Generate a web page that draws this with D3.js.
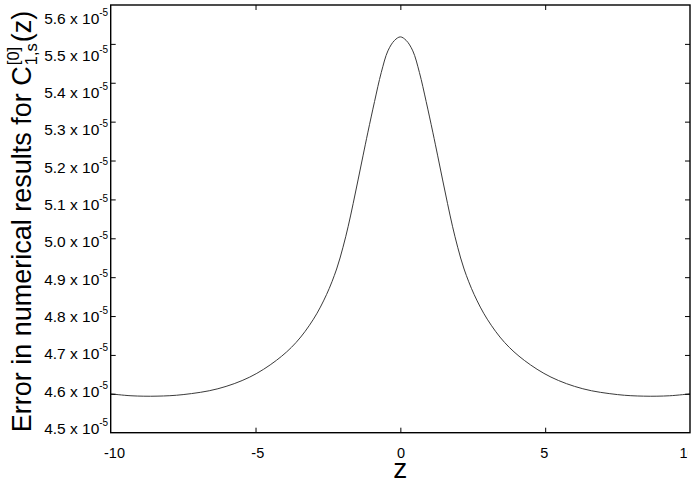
<!DOCTYPE html>
<html>
<head>
<meta charset="utf-8">
<script src="https://cdn.jsdelivr.net/npm/d3@7"></script>
<style>
  html, body { margin: 0; padding: 0; background: #fff; }
  svg { display: block; font-family: "Liberation Sans", Arial, Helvetica, sans-serif; }
</style>
</head>
<body>
<svg id="chart" width="698" height="484"></svg>
<script>
// Data (error values in units of 1e-5)
const zValues = [-10, -9.3, -8.4, -7.5, -6.3, -5.2, -4.28, -3.6, -3.0, -2.55, -2.2, -1.98, -1.8, -1.63, -1.46, -1.29, -1.12, -0.89, -0.66, -0.43, -0.2, 0,
                 0.2, 0.43, 0.66, 0.89, 1.12, 1.29, 1.46, 1.63, 1.8, 1.98, 2.2, 2.55, 3.0, 3.6, 4.28, 5.2, 6.3, 7.5, 8.4, 9.3, 10];
const errorValues = [4.600, 4.595, 4.594, 4.598, 4.613, 4.643, 4.686, 4.732, 4.792, 4.855, 4.921, 4.977, 5.031, 5.089, 5.150, 5.212, 5.273, 5.352, 5.426, 5.482, 5.509, 5.518,
                     5.509, 5.482, 5.426, 5.352, 5.273, 5.212, 5.150, 5.089, 5.031, 4.977, 4.921, 4.855, 4.792, 4.732, 4.686, 4.643, 4.613, 4.598, 4.594, 4.595, 4.600];
const xTicks = [-10, -5, 0, 5, 10];
const yTicks = [4.5, 4.6, 4.7, 4.8, 4.9, 5.0, 5.1, 5.2, 5.3, 5.4, 5.5, 5.6];
const yExponent = "-5";

const svg = d3.select("#chart");
const W = 698, H = 484;
const plot = { left: 110.7, right: 690, top: 5, bottom: 432.7 };
const x = d3.scaleLinear().domain([-10, 10]).range([plot.left, plot.right]);
const y = d3.scaleLinear().domain([4.5, 5.6]).range([plot.bottom, plot.top]);
// label placement scales (labels in the original sit on a slightly compressed grid)
const xLab = d3.scaleLinear().domain([-10, 10]).range([114, 687]);
const yLab = d3.scaleLinear().domain([4.5, 5.6]).range([433.5, 23]);

// the original figure is cropped at the right edge, cutting the last x label
svg.append("defs").append("clipPath").attr("id", "labclip")
  .append("rect").attr("x", 0).attr("y", -500).attr("width", 687.5).attr("height", 1000);

// Curve
const pts = zValues.map((z, i) => [z, errorValues[i]]);
svg.append("path")
  .datum(pts)
  .attr("fill", "none")
  .attr("stroke", "#3a3a3a")
  .attr("stroke-width", 1)
  .attr("d", d3.line().x(d => x(d[0])).y(d => y(d[1])).curve(d3.curveCatmullRom.alpha(0.5)));

// Frame
svg.append("rect")
  .attr("x", x(-10)).attr("y", y(5.6))
  .attr("width", x(10) - x(-10)).attr("height", y(4.5) - y(5.6))
  .attr("fill", "none").attr("stroke", "#000").attr("stroke-width", 1.4);

// Inward ticks on all four sides
function ticksOnly(g) { g.select(".domain").remove(); g.selectAll("text").remove(); g.selectAll("line").attr("stroke", "#000"); }
svg.append("g").attr("transform", `translate(0,${plot.bottom})`)
  .call(d3.axisBottom(x).tickValues(xTicks.slice(1, -1)).tickSizeInner(-5).tickSizeOuter(0)).call(ticksOnly);
svg.append("g").attr("transform", `translate(0,${plot.top})`)
  .call(d3.axisTop(x).tickValues(xTicks.slice(1, -1)).tickSizeInner(-5).tickSizeOuter(0)).call(ticksOnly);
svg.append("g").attr("transform", `translate(${plot.left},0)`)
  .call(d3.axisLeft(y).tickValues(yTicks.slice(1, -1)).tickSizeInner(-5).tickSizeOuter(0)).call(ticksOnly);
svg.append("g").attr("transform", `translate(${plot.right},0)`)
  .call(d3.axisRight(y).tickValues(yTicks.slice(1, -1)).tickSizeInner(-5).tickSizeOuter(0)).call(ticksOnly);

// x tick labels
const gxl = svg.append("g").attr("transform", `translate(0,${plot.bottom})`).attr("clip-path", "url(#labclip)")
  .call(d3.axisBottom(xLab).tickValues(xTicks).tickSize(0).tickFormat(d => d));
gxl.select(".domain").remove();
gxl.selectAll("text").attr("font-size", 14.5).attr("fill", "#000")
  .attr("font-family", "Liberation Sans, Arial, sans-serif")
  .attr("y", 25.5).attr("dy", 0);

// y tick labels "5.6 x 10^-5"
const gyl = svg.append("g").attr("transform", `translate(${plot.left - 2.5},0)`)
  .call(d3.axisLeft(yLab).tickValues(yTicks).tickSize(0).tickFormat(""));
gyl.select(".domain").remove();
gyl.selectAll("text").each(function(v) {
  const t = d3.select(this).attr("x", 0).attr("dy", 0).attr("y", 0)
    .attr("font-size", 15.5).attr("fill", "#000").attr("text-anchor", "end")
    .attr("font-family", "Liberation Sans, Arial, sans-serif");
  t.text(null);
  t.append("tspan").text(d3.format(".1f")(v) + " x 10");
  t.append("tspan").attr("font-size", 10).attr("dy", -8).text(yExponent);
});

// x title
svg.append("text").attr("x", x(0)).attr("y", 478).attr("text-anchor", "middle")
  .attr("font-size", 28).attr("fill", "#000").text("z");

// y title with super/subscripts
const fs = 27, fsSmall = 16.5;
const gy = svg.append("g").attr("transform", `translate(31,${222}) rotate(-90)`);
const tMain = gy.append("text").attr("font-size", fs).attr("fill", "#000").text("Error in numerical results for C");
const tSup = gy.append("text").attr("font-size", fsSmall).attr("fill", "#000").text("[0]");
const tSub = gy.append("text").attr("font-size", fsSmall).attr("fill", "#000").text("1,s");
const tEnd = gy.append("text").attr("font-size", fs).attr("fill", "#000").text("(z)");
const wMain = tMain.node().getComputedTextLength();
const wSup = tSup.node().getComputedTextLength();
const wSub = tSub.node().getComputedTextLength();
const wEnd = tEnd.node().getComputedTextLength();
const wMid = Math.max(wSup, wSub) + 1;
const total = wMain + wMid + wEnd;
let cx = -total / 2;
tMain.attr("x", cx).attr("y", 0);
cx += wMain + 1;
tSup.attr("x", cx).attr("y", -12);
tSub.attr("x", cx).attr("y", 6);
cx += wMid;
tEnd.attr("x", cx).attr("y", 0);
</script>
</body>
</html>
